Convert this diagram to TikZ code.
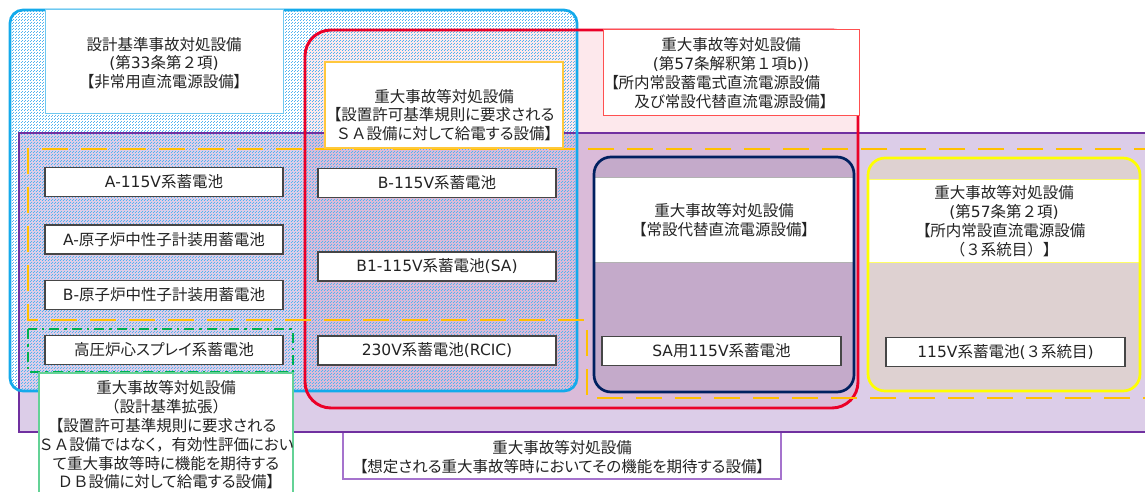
\documentclass[tikz,border=0pt]{standalone}
\usepackage{fontspec}
\setmainfont[RawFeature=+palt]{Noto Sans CJK JP}
\newfontfamily\latfont{DejaVu Sans}
\newfontfamily\fwfont{Noto Sans CJK JP}
\newcommand{\latx}[1]{{\latfont #1}}
\newcommand{\fwx}[1]{{\fwfont #1}}
\usetikzlibrary{patterns}
\pgfdeclarepatternformonly{bluedots}{\pgfqpoint{0pt}{0pt}}{\pgfqpoint{3pt}{3pt}}{\pgfqpoint{3pt}{3pt}}{%
  \pgfpathrectangle{\pgfqpoint{0pt}{0pt}}{\pgfqpoint{1.05pt}{1.05pt}}%
  \pgfpathrectangle{\pgfqpoint{1.5pt}{1.5pt}}{\pgfqpoint{1.05pt}{1.05pt}}%
  \pgfusepath{fill}}
\definecolor{txt}{RGB}{35,35,35}
\definecolor{purp}{RGB}{112,48,160}
\definecolor{bluec}{RGB}{20,170,235}
\definecolor{dotblue}{RGB}{80,180,240}
\definecolor{redc}{RGB}{235,0,40}
\definecolor{pinkfill}{RGB}{253,232,236}
\definecolor{orangec}{RGB}{255,192,0}
\definecolor{greenc}{RGB}{0,176,80}
\definecolor{navyc}{RGB}{0,32,96}
\definecolor{navyfill}{RGB}{196,170,202}
\definecolor{yellowc}{RGB}{255,255,0}
\definecolor{yellowfill}{RGB}{222,209,209}
\definecolor{battline}{RGB}{70,70,70}
\definecolor{pboxc}{RGB}{165,115,205}
\definecolor{bboxc}{RGB}{110,200,240}
\definecolor{oboxc}{RGB}{255,200,60}
\definecolor{rboxc}{RGB}{255,80,80}
\definecolor{gboxc}{RGB}{100,210,150}
\begin{document}
\begin{tikzpicture}[x=1pt,y=-1pt,
  every node/.style={font=\fontsize{15.5}{18.8}\selectfont, text=txt, align=center, inner sep=0pt},
  batt/.style={draw=battline, line width=1.2pt, fill=white, minimum width=238pt, minimum height=29pt},
  tbox/.style={fill=white, line width=1pt},
  thickline/.style={line width=2.7pt}]
\useasboundingbox (0,0) rectangle (1145,492);
\clip (0,0) rectangle (1145,492);
% area fills
\fill[pinkfill, rounded corners=26pt] (305,30) rectangle (858,408);
\fill[purp, fill opacity=0.245] (19,133) rectangle (1160,432);
\fill[pattern=bluedots, pattern color=dotblue, rounded corners=13pt] (10,10) rectangle (577,391);
% navy group
\fill[navyfill, rounded corners=17pt] (594,157) rectangle (854,392);
\filldraw[fill=white, draw=gray!60, line width=0.6pt] (594,177) rectangle (854,262);
\draw[navyc, thickline, rounded corners=17pt] (594,157) rectangle (854,392);
% yellow group
\fill[yellowfill, rounded corners=17pt] (868,158) rectangle (1140,391);
\filldraw[fill=white, draw=yellowc!60, line width=0.6pt] (868,179) rectangle (1140,262);
\draw[yellowc, thickline, rounded corners=17pt] (868,158) rectangle (1140,391);
% purple text box (below purple stroke)
\node[tbox, draw=pboxc, line width=1.2pt, minimum width=438pt, minimum height=47pt] (pbox) at (562,455.5) {};
\node (ptext) at (562,457) {重大事故等対処設備\\【想定される重大事故等時においてその機能を期待する設備】};
% strokes
\draw[purp, thickline] (19,133) rectangle (1160,432);
\draw[bluec, thickline, rounded corners=13pt] (10,10) rectangle (577,391);
\draw[redc, line width=2.9pt, rounded corners=26pt] (305,30) rectangle (858,408);
\draw[orangec, line width=2.8pt, dash pattern=on 26pt off 13pt] (1160,149) -- (28,149) -- (28,320) -- (587,320) -- (587,398) -- (1160,398);
\draw[greenc, line width=2.6pt, dash pattern=on 10pt off 5pt on 2.5pt off 5pt] (28,329) rectangle (293,372);
% text boxes
\node[tbox, draw=bboxc, minimum width=238pt, minimum height=104pt] (bbox) at (164,62) {};
\node (btext) at (164,63) {設計基準事故対処設備\\\latx{(}第\latx{33}条第\fwx{２}項\latx{)}\\【非常用直流電源設備】};
\node[tbox, draw=oboxc, line width=1.2pt, minimum width=238pt, minimum height=86pt] (obox) at (444,105) {};
\node (otext) at (444,115) {重大事故等対処設備\\【設置許可基準規則に要求される\\\fwx{ＳＡ}設備に対して給電する設備】};
\node[tbox, draw=rboxc, minimum width=256pt, minimum height=86pt] (rbox) at (731,73) {};
\node (rtext) at (731,73) {重大事故等対処設備\\\latx{(}第\latx{57}条解釈第\fwx{１}項\latx{b))}\\【所内常設蓄電式直流電源設備\phantom{備備}\\及び常設代替直流電源設備】};
\node[tbox, draw=gboxc, line width=1.2pt, minimum width=254pt, minimum height=130pt] (gbox) at (166,438) {};
\node (gtext) at (166,435) {重大事故等対処設備\\\fwx{（}設計基準拡張\fwx{）}\\【設置許可基準規則に要求される\\\fwx{ＳＡ}設備ではなく\fwx{，}有効性評価におい\\て重大事故等時に機能を期待する\\\fwx{ＤＢ}設備に対して給電する設備】};
\node (ntext) at (724,220) {重大事故等対処設備\\【常設代替直流電源設備】};
\node (ytext) at (1004,221) {重大事故等対処設備\\\latx{(}第\latx{57}条第\fwx{２}項\latx{)}\\【所内常設直流電源設備\\\fwx{（３系統目）】}};
% batteries
\node[batt] (a115) at (164,182) {\latx{A-115V}系蓄電池};
\node[batt] (aneu) at (164,239.5) {\latx{A-}原子炉中性子計装用蓄電池};
\node[batt] (bneu) at (164,295) {\latx{B-}原子炉中性子計装用蓄電池};
\node[batt] (hpcs) at (164,350) {高圧炉心スプレイ系蓄電池};
\node[batt] (b115) at (437,183) {\latx{B-115V}系蓄電池};
\node[batt] (b1) at (437,266.5) {\latx{B1-115V}系蓄電池\latx{(SA)}};
\node[batt] (rcic) at (437,350.5) {\latx{230V}系蓄電池\latx{(RCIC)}};
\node[batt, minimum width=239pt] (sa115) at (721.5,351) {\latx{SA}用\latx{115V}系蓄電池};
\node[batt, minimum width=239pt] (b3) at (1005.5,352) {\latx{115V}系蓄電池\latx{(}\fwx{３}系統目\latx{)}};
\end{tikzpicture}
\end{document}
